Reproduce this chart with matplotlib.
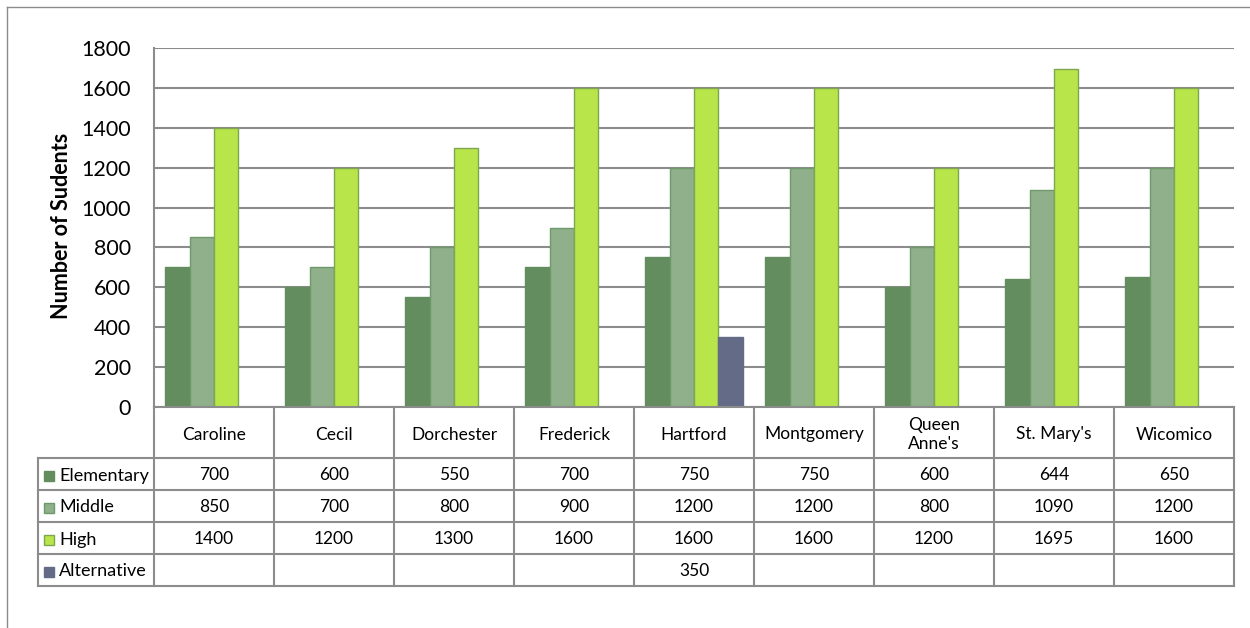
import matplotlib
matplotlib.use("Agg")
import matplotlib.pyplot as plt
from matplotlib.patches import Rectangle
from matplotlib.lines import Line2D
import numpy as np

plt.rcParams['font.family'] = ['Lato', 'DejaVu Sans']

categories = ["Caroline", "Cecil", "Dorchester", "Frederick", "Hartford",
              "Montgomery", "Queen\nAnne's", "St. Mary's", "Wicomico"]
series_names = ["Elementary", "Middle", "High", "Alternative"]
elementary = [700, 600, 550, 700, 750, 750, 600, 644, 650]
middle = [850, 700, 800, 900, 1200, 1200, 800, 1090, 1200]
high = [1400, 1200, 1300, 1600, 1600, 1600, 1200, 1695, 1600]
alternative = [None, None, None, None, 350, None, None, None, None]
y_ticks = [0, 200, 400, 600, 800, 1000, 1200, 1400, 1600, 1800]

colors = ["#638C5F", "#8FB08B", "#B8E54A", "#636B86"]
edges = ["#638C5F", "#6E996A", "#7FA552", "#636B86"]

W, H = 1250, 628
fig = plt.figure(figsize=(W / 100, H / 100), dpi=100)

def fx(px):
    return px / W

def fy(py):
    return 1 - py / H

ax_l, ax_r, ax_t, ax_b = 154, 1234, 48, 407
ax = fig.add_axes([fx(ax_l), fy(ax_b), fx(ax_r) - fx(ax_l), fy(ax_t) - fy(ax_b)])

data = [elementary, middle, high, alternative]
n = len(categories)
x = np.arange(n)
bw = 0.204
for i, (vals, c, ec) in enumerate(zip(data, colors, edges)):
    v = np.array([np.nan if a is None else a for a in vals], dtype=float)
    ax.bar(x + (i - 1.5) * bw, v, width=bw, color=c, edgecolor=ec, linewidth=1.0, zorder=3)

ax.set_xlim(-0.5, n - 0.5)
ax.set_ylim(0, 1800)
ax.set_yticks(y_ticks)
ax.set_yticklabels([str(t) for t in y_ticks], fontsize=15.5)
ax.tick_params(axis='y', length=0, pad=16.5)
ax.set_xticks([])
ax.yaxis.grid(True, color="#8C8C8C", linewidth=1.5, zorder=0)
ax.set_axisbelow(True)
for s in ['top', 'right', 'bottom']:
    ax.spines[s].set_visible(False)
ax.spines['left'].set_color("#8C8C8C")
ax.spines['left'].set_linewidth(1.5)

fig.text(fx(62), fy(226), "Number of Sudents", rotation=90, fontsize=15.5,
         fontweight='bold', ha='center', va='center')

# Data table
gc = "#8C8C8C"
col_w = (ax_r - ax_l) / n
row_edges = [458, 490, 522, 554, 586]
leg_l = 38
fs = 12.5

def hline(y, x0, x1):
    fig.add_artist(Line2D([fx(x0), fx(x1)], [fy(y), fy(y)], color=gc, lw=1.5,
                          transform=fig.transFigure))

def vline(x0, y0, y1):
    fig.add_artist(Line2D([fx(x0), fx(x0)], [fy(y0), fy(y1)], color=gc, lw=1.5,
                          transform=fig.transFigure))

hline(ax_b, ax_l, ax_r)
for y in row_edges:
    hline(y, leg_l, ax_r)
for i in range(n + 1):
    vline(ax_l + i * col_w, ax_b, row_edges[-1])
vline(leg_l, row_edges[0], row_edges[-1])

for i, cat in enumerate(categories):
    cx = ax_l + (i + 0.5) * col_w
    fig.text(fx(cx), fy((ax_b + row_edges[0]) / 2 + 2), cat, fontsize=fs,
             ha='center', va='center', linespacing=1.2)

for r, (name, vals, c, ec) in enumerate(zip(series_names, data, colors, edges)):
    cy = (row_edges[r] + row_edges[r + 1]) / 2 + 1.5
    fig.add_artist(Rectangle((fx(44), fy(cy + 5)), fx(10), 10 / H, facecolor=c,
                             edgecolor=ec if r in (1, 2) else c, lw=1.0,
                             transform=fig.transFigure))
    fig.text(fx(59), fy(cy), name, fontsize=13, ha='left', va='center')
    for i, v in enumerate(vals):
        if v is not None:
            cx = ax_l + (i + 0.5) * col_w
            fig.text(fx(cx), fy(cy), str(v), fontsize=fs, ha='center', va='center')

# outer chart border
fig.add_artist(Line2D([fx(7), fx(7)], [fy(7), fy(H)], color=gc, lw=1.0,
                      transform=fig.transFigure))
fig.add_artist(Line2D([fx(7), fx(W)], [fy(7), fy(7)], color=gc, lw=1.0,
                      transform=fig.transFigure))

fig.savefig("out.png", dpi=100)
